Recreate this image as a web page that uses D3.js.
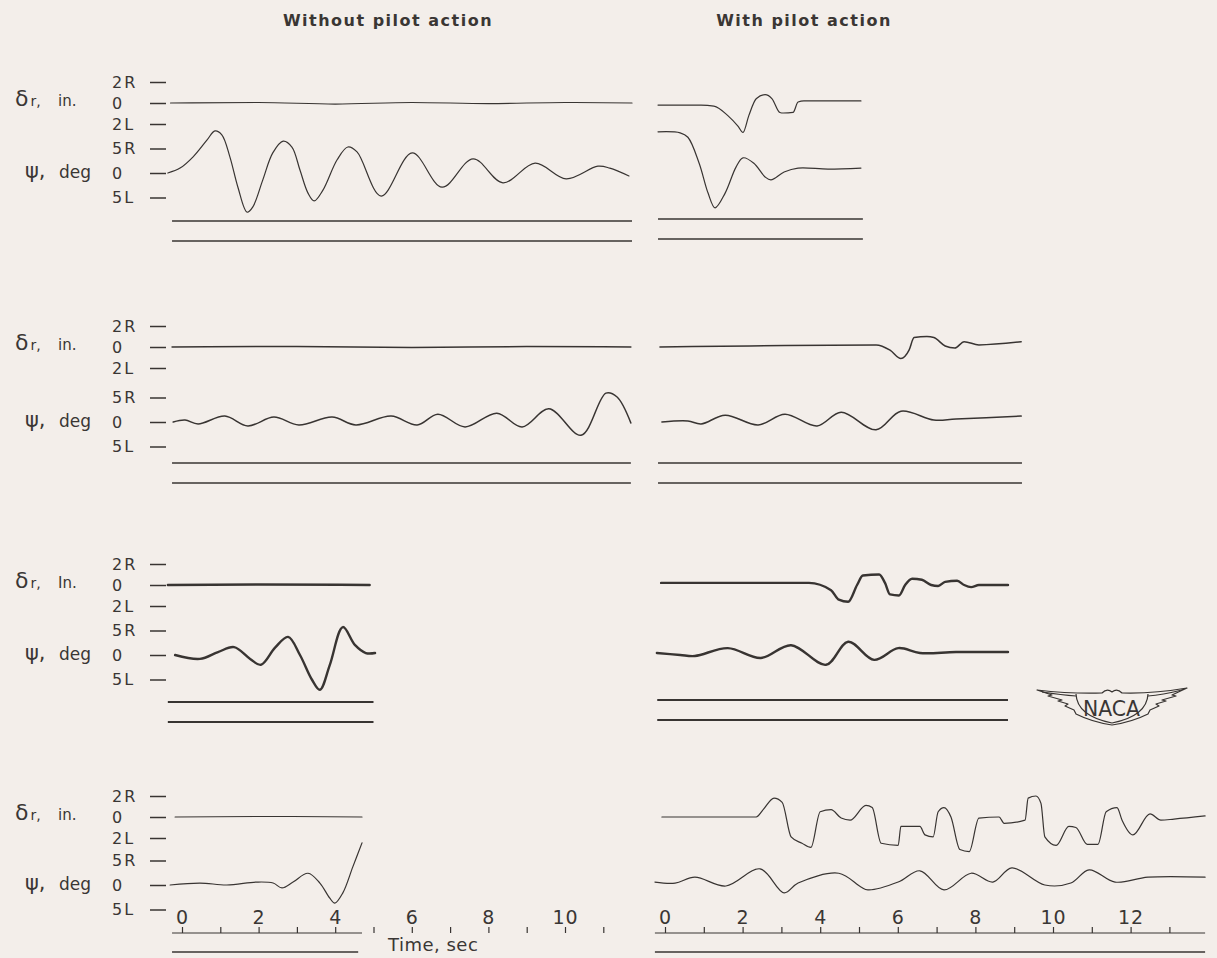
<!DOCTYPE html>
<html>
<head>
<meta charset="utf-8">
<script src="https://cdn.jsdelivr.net/npm/d3@7"></script>
<style>
  html, body { margin: 0; padding: 0; background: #f3eeea; }
  svg { display: block; }
  text { font-family: "DejaVu Sans", sans-serif; fill: #3a3634; }
</style>
</head>
<body>
<svg id="chart" width="1217" height="958"></svg>
<script>
// ---- titles / tick labels ----
const TITLES = ['Without pilot action', 'With pilot action'];
const DR_TICKS = [2, 0, -2];
const DR_TICK_LABELS = ['2R', '0', '2L'];
const PSI_TICKS = [5, 0, -5];
const PSI_TICK_LABELS = ['5R', '0', '5L'];
const TIME_TICKS_L = [0, 1, 2, 3, 4, 5, 6, 7, 8, 9, 10, 11];
const TIME_TICKS_R = [0, 1, 2, 3, 4, 5, 6, 7, 8, 9, 10, 11, 12, 13];
const TIME_LABELS = [0, 2, 4, 6, 8, 10, 12];

// ---- traces: [time sec, value] ; δr in inches (R +), ψ in deg (R +) ----
// run 1
const dr1L = [[-0.30, 0], [2.0, 0.05], [4.0, -0.1], [6.0, 0.05], [8.0, -0.05], [10.0, 0.05], [11.75, 0]];
const psi1L = [[-0.37, 0], [-0.05, 1.0], [0.29, 3.3], [0.65, 6.7], [0.86, 8.6], [1.04, 7.8],
  [1.25, 3.3], [1.46, -2.9], [1.70, -8.0], [1.85, -6.9], [2.11, -1.4], [2.37, 4.1], [2.64, 6.5],
  [2.87, 5.3], [3.08, 0.6], [3.29, -4.1], [3.45, -5.7], [3.68, -3.5], [4.05, 2.7], [4.33, 5.3],
  [4.57, 4.3], [5.20, -4.7], [6.01, 4.1], [6.79, -2.9], [7.60, 2.9], [8.38, -2.0], [9.22, 2.0],
  [10.03, -1.2], [10.86, 1.4], [11.17, 1.0], [11.67, -0.6]];
const dr1R = [[-0.18, -0.2], [0.93, -0.2], [1.26, -0.3], [1.62, -1.2], [1.88, -2.2], [2.01, -2.8],
  [2.16, -1.2], [2.35, 0.4], [2.58, 0.8], [2.76, 0.4], [2.96, -0.9], [3.05, -0.95], [3.30, -0.9],
  [3.43, 0.1], [3.58, 0.2], [5.05, 0.2]];
const psi1R = [[-0.18, 8.4], [0.39, 8.2], [0.59, 7.3], [0.88, 2.0], [1.11, -4.1], [1.29, -7.1],
  [1.55, -4.1], [1.83, 1.2], [2.01, 3.1], [2.29, 2.0], [2.58, -0.8], [2.73, -1.4], [3.07, 0.2],
  [3.43, 1.0], [4.2, 0.8], [5.05, 1.0]];
// run 2
const dr2L = [[-0.26, 0], [3, 0.05], [6, -0.05], [9, 0.05], [11.72, 0]];
const psi2L = [[-0.23, 0], [0.08, 0.4], [0.42, -0.4], [1.12, 1.2], [1.72, -0.8], [2.40, 1.0],
  [3.05, -0.6], [3.92, 1.0], [4.54, -0.6], [5.46, 1.2], [6.14, -0.6], [6.68, 1.6], [7.39, -1.0],
  [8.22, 1.8], [8.88, -1.0], [9.58, 2.7], [10.42, -2.7], [11.07, 5.9], [11.36, 5.1], [11.72, -0.2]];
const dr2R = [[-0.13, 0], [2.19, 0.1], [5.44, 0.2], [5.80, -0.3], [6.08, -1.1], [6.29, -0.3],
  [6.42, 0.9], [6.75, 1.0], [6.93, 0.9], [7.22, 0.1], [7.47, -0.1], [7.71, 0.5], [8.09, 0.2], [9.18, 0.5]];
const psi2R = [[-0.08, 0], [0.59, 0.2], [0.93, -0.4], [1.55, 1.4], [2.40, -0.6], [3.09, 1.6],
  [3.92, -0.8], [4.54, 2.0], [5.44, -1.6], [6.08, 2.2], [6.93, 0.4], [7.5, 0.6], [9.18, 1.2]];
// run 3
const dr3L = [[-0.37, 0], [2.0, 0.05], [4.9, 0]];
const psi3L = [[-0.18, 0], [0.47, -0.8], [0.94, 0.6], [1.36, 1.6], [1.78, -0.8], [2.06, -2.0],
  [2.43, 1.5], [2.77, 3.7], [3.08, 0], [3.39, -5.0], [3.60, -7.1], [3.86, -2.0], [4.20, 5.7],
  [4.52, 2.0], [4.80, 0.4], [5.04, 0.4]];
const dr3R = [[-0.10, 0.2], [3.71, 0.2], [4.28, -0.5], [4.48, -1.4], [4.72, -1.6], [4.95, 0],
  [5.10, 0.9], [5.52, 1.0], [5.67, 0.2], [5.80, -0.9], [6.03, -1.0], [6.19, 0], [6.37, 0.6],
  [6.62, 0.5], [6.86, 0], [7.04, -0.1], [7.22, 0.3], [7.53, 0.4], [7.71, 0], [7.89, -0.2],
  [8.09, 0], [8.84, 0]];
const psi3R = [[-0.21, 0.4], [0.39, 0], [0.77, -0.2], [1.62, 1.4], [2.47, -0.6], [3.25, 2.0],
  [4.15, -2.0], [4.72, 2.7], [5.39, -1.0], [6.01, 1.4], [6.57, 0.4], [7.5, 0.6], [8.84, 0.6]];
// run 4
const dr4L = [[-0.18, 0], [2.5, 0.05], [4.7, 0]];
const psi4L = [[-0.31, 0], [0.47, 0.4], [1.17, 0], [1.96, 0.6], [2.38, 0.4], [2.61, -0.6],
  [2.90, 0.6], [3.29, 2.4], [3.60, 0.4], [3.86, -2.7], [3.99, -3.7], [4.20, -1.6], [4.46, 3.7], [4.70, 8.6]];
const dr4R = [[-0.08, 0], [2.35, 0], [2.53, 0.7], [2.81, 1.8], [3.02, 1.4], [3.25, -1.9], [3.53, -2.5],
  [3.76, -2.9], [4.00, 0.5], [4.28, 0.7], [4.54, -0.1], [4.77, -0.3], [5.18, 1.1], [5.34, 0.9],
  [5.57, -2.5], [6.01, -2.7], [6.08, -0.9], [6.57, -0.9], [6.70, -1.7], [6.91, -1.9], [7.04, 0.5],
  [7.19, 0.9], [7.37, 0], [7.60, -3.1], [7.84, -3.3], [8.09, -0.1], [8.61, 0], [8.74, -0.6],
  [9.28, -0.3], [9.36, 1.8], [9.56, 2.0], [9.69, 1.3], [9.79, -1.9], [10.08, -2.7], [10.41, -0.9],
  [10.59, -1.0], [10.88, -2.6], [11.16, -2.6], [11.37, 0.5], [11.65, 0.9], [11.78, -0.3],
  [12.06, -1.7], [12.50, 0.3], [12.78, -0.3], [13.12, -0.2], [13.92, 0.1]];
const psi4R = [[-0.26, 0.6], [0.26, 0.4], [0.77, 1.6], [1.57, -0.2], [2.45, 3.3], [3.07, -1.6],
  [3.43, 0.4], [4.48, 2.4], [5.05, -0.4], [5.23, -1.0], [6.01, 0.6], [6.57, 2.9], [7.19, -1.0],
  [7.89, 2.4], [8.45, 0.6], [8.94, 3.5], [9.79, 0], [10.46, 0.4], [10.93, 3.1], [11.60, 0.6],
  [12.45, 1.6], [13.92, 1.6]];

// record lengths (sec) for the reference traces under each run
const spanL = [[-0.26, 11.75], [-0.26, 11.72], [-0.37, 5.0], [-0.26, 4.7]];
const spanR = [[-0.18, 5.1], [-0.18, 9.2], [-0.2, 8.84], [-0.26, 13.92]];

const RUNS = [
  { drL: dr1L, psiL: psi1L, drR: dr1R, psiR: psi1R, unit: 'in.' },
  { drL: dr2L, psiL: psi2L, drR: dr2R, psiR: psi2R, unit: 'in.' },
  { drL: dr3L, psiL: psi3L, drR: dr3R, psiR: psi3R, unit: 'In.' },
  { drL: dr4L, psiL: psi4L, drR: dr4R, psiR: psi4R, unit: 'in.' }
];

// ---- layout ----
const INK = '#383432';
const ROW_POS = [
  { dz: 103, pz: 173, refL: [221, 241], refR: [219, 239], lw: 1.2 },
  { dz: 347, pz: 422, refL: [463, 483], refR: [463, 483], lw: 1.5 },
  { dz: 585, pz: 655, refL: [702, 722], refR: [700, 720], lw: 2.4 },
  { dz: 817, pz: 885, refL: [], refR: [], lw: 1.2 }
];
const AXIS_Y = 933, BOTTOM_Y = 952;

const svg = d3.select('#chart');
const xL = d3.scaleLinear().domain([0, 10]).range([182, 565]);
const xR = d3.scaleLinear().domain([0, 10]).range([665, 1053]);

function drawTrace(x, y, data, w, curve) {
  svg.append('path').datum(data)
    .attr('fill', 'none').attr('stroke', INK).attr('stroke-width', w)
    .attr('stroke-linejoin', 'round').attr('stroke-linecap', 'round')
    .attr('d', d3.line().x(d => x(d[0])).y(d => y(d[1])).curve(curve));
}

function flatLine(x, span, yPos, w) {
  svg.append('line')
    .attr('x1', x(span[0])).attr('x2', x(span[1]))
    .attr('y1', yPos).attr('y2', yPos)
    .attr('stroke', INK).attr('stroke-width', w);
}

function labelAxis(y, ticks, labels) {
  const ax = svg.append('g').attr('transform', 'translate(166,0)')
    .call(d3.axisLeft(y).tickValues(ticks).tickFormat((d, i) => labels[i]).tickSize(16).tickPadding(4));
  ax.attr('font-family', null).attr('font-size', null);
  ax.select('.domain').remove();
  ax.selectAll('line').attr('stroke', INK).attr('stroke-width', 1.5);
  ax.selectAll('text')
    .attr('x', -54).attr('text-anchor', 'start')
    .attr('fill', INK).style('font-size', '16px').style('letter-spacing', '2px');
}

// titles
svg.selectAll('text.title').data(TITLES).join('text')
  .attr('class', 'title')
  .attr('x', (d, i) => i === 0 ? 388 : 804).attr('y', 26)
  .attr('text-anchor', 'middle')
  .style('font-size', '16px').style('font-weight', 'bold').style('letter-spacing', '1.5px')
  .text(d => d);

const smooth = d3.curveCatmullRom.alpha(0.5);

RUNS.forEach((run, r) => {
  const p = ROW_POS[r];
  const yDr = d3.scaleLinear().domain([-2, 2]).range([p.dz + 21, p.dz - 21]);
  const yPsi = d3.scaleLinear().domain([-5, 5]).range([p.pz + 24.5, p.pz - 24.5]);

  labelAxis(yDr, DR_TICKS, DR_TICK_LABELS);
  labelAxis(yPsi, PSI_TICKS, PSI_TICK_LABELS);

  // δr label
  const t1 = svg.append('text').attr('x', 15).attr('y', p.dz + 3);
  t1.append('tspan').style('font-size', '22px').text('δ');
  t1.append('tspan').style('font-size', '14px').attr('dx', 2).text('r,');
  t1.append('tspan').style('font-size', '15px').attr('x', 58).text(run.unit);
  // ψ label
  const t2 = svg.append('text').attr('x', 25).attr('y', p.pz + 5);
  t2.append('tspan').style('font-size', '21px').text('ψ,');
  t2.append('tspan').style('font-size', '17px').attr('x', 59).text('deg');

  drawTrace(xL, yDr, run.drL, p.lw, d3.curveMonotoneX);
  drawTrace(xL, yPsi, run.psiL, p.lw, smooth);
  drawTrace(xR, yDr, run.drR, p.lw, d3.curveMonotoneX);
  drawTrace(xR, yPsi, run.psiR, p.lw, smooth);

  p.refL.forEach(yy => flatLine(xL, spanL[r], yy, Math.max(1.3, p.lw * 0.8)));
  p.refR.forEach(yy => flatLine(xR, spanR[r], yy, Math.max(1.3, p.lw * 0.8)));
});

// time axes (ticks pointing up, numbers above)
function timeAxis(x, ticks, span, lineEnd) {
  const ax = svg.append('g').attr('transform', `translate(0,${AXIS_Y})`)
    .call(d3.axisTop(x).tickValues(ticks)
      .tickFormat(d => TIME_LABELS.includes(d) ? d : '')
      .tickSize(6).tickPadding(3));
  ax.attr('font-family', null).attr('font-size', null);
  ax.select('.domain').remove();
  ax.selectAll('line').attr('stroke', INK).attr('stroke-width', 1.2);
  ax.selectAll('text').attr('fill', INK).style('font-size', '19px').style('letter-spacing', '1px');
  flatLine(x, [span[0], span[1]], AXIS_Y, 1.2);
  flatLine(x, [span[0], lineEnd], BOTTOM_Y, 1.5);
}
timeAxis(xL, TIME_TICKS_L, spanL[3], 4.6);
timeAxis(xR, TIME_TICKS_R, spanR[3], spanR[3][1]);

svg.append('text').attr('x', 388).attr('y', 951)
  .style('font-size', '18px').style('letter-spacing', '0.5px').text('Time,  sec');

// NACA wings emblem
const logo = svg.append('g').attr('transform', 'translate(1112,690)')
  .attr('fill', 'none').attr('stroke', INK).attr('stroke-width', 1.2).attr('stroke-linejoin', 'round');
logo.append('path').attr('d',
  'M-75,0 Q-40,4 -10,3 Q-5,-2 0,2 Q5,-2 10,3 Q40,4 75,-2 ' +
  'L60,5 L64,6 L50,10 L54,11 L44,14 L47,16 L38,20 L36,24 Q20,32 0,35 Q-20,32 -36,24 ' +
  'L-38,20 L-47,16 L-44,14 L-54,11 L-50,10 L-64,6 L-60,5 Z');
logo.append('path').attr('d', 'M-70,2 Q-50,5 -36,6 M70,0 Q50,5 36,6');
logo.append('path').attr('d', 'M-36,4 Q-35,26 0,33 Q35,26 36,4');
svg.append('text').attr('x', 1083).attr('y', 716)
  .attr('textLength', 57).attr('lengthAdjust', 'spacingAndGlyphs')
  .style('font-size', '22px').text('NACA');
</script>
</body>
</html>
